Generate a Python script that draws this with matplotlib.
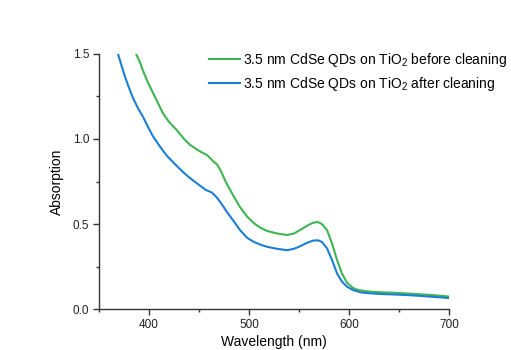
import matplotlib
matplotlib.use("Agg")
import matplotlib.pyplot as plt
from matplotlib.ticker import MultipleLocator

plt.rcParams['font.family'] = ['Liberation Sans', 'DejaVu Sans']
plt.rcParams['mathtext.fontset'] = 'custom'
plt.rcParams['mathtext.rm'] = 'Liberation Sans'
plt.rcParams['mathtext.default'] = 'regular'

# Data
wl_before = [387, 391, 394, 399, 404, 409, 414, 420, 428, 435, 441, 450, 458, 464, 468,
             472, 477, 484, 491, 498, 505, 511, 518, 528, 538, 545, 551, 558, 564, 569,
             573, 578, 583, 588, 593, 598, 604, 610, 620, 631, 645, 660, 680, 700]
abs_before = [1.50, 1.45, 1.40, 1.33, 1.27, 1.21, 1.15, 1.10, 1.05, 1.00, 0.965, 0.93, 0.905, 0.87, 0.85,
              0.81, 0.745, 0.67, 0.60, 0.545, 0.505, 0.48, 0.46, 0.445, 0.436, 0.445, 0.465, 0.49, 0.508, 0.512,
              0.50, 0.465, 0.387, 0.29, 0.21, 0.156, 0.125, 0.112, 0.104, 0.10, 0.097, 0.092, 0.085, 0.075]

wl_after = [369, 372, 376, 380, 384, 389, 394, 399, 404, 411, 418, 428, 435, 441, 450,
            457, 463, 468, 473, 478, 485, 491, 498, 505, 512, 518, 528, 538, 545, 551,
            558, 564, 569, 573, 578, 583, 588, 593, 598, 604, 612, 621, 631, 645, 660,
            680, 700]
abs_after = [1.50, 1.44, 1.365, 1.30, 1.24, 1.18, 1.13, 1.07, 1.015, 0.955, 0.90, 0.84, 0.80, 0.77, 0.73,
             0.70, 0.685, 0.655, 0.615, 0.57, 0.515, 0.465, 0.42, 0.395, 0.378, 0.367, 0.355, 0.347, 0.355, 0.37,
             0.39, 0.403, 0.405, 0.395, 0.358, 0.289, 0.211, 0.162, 0.133, 0.113, 0.099, 0.094, 0.09, 0.087, 0.083,
             0.075, 0.066]

labels = ['3.5 nm CdSe QDs on TiO$_2$ before cleaning',
          '3.5 nm CdSe QDs on TiO$_2$ after cleaning']
colors = ['#3db652', '#1a7fd3']
x_ticks = [400, 500, 600, 700]
y_ticks = [0.0, 0.5, 1.0, 1.5]

fig = plt.figure(figsize=(5.11, 3.5), dpi=100)
ax = fig.add_axes([99/511, 1-309.3/350, 350/511, (309.3-53.7)/350])

ax.plot(wl_before, abs_before, color=colors[0], lw=1.5, label=labels[0])
ax.plot(wl_after, abs_after, color=colors[1], lw=1.5, label=labels[1])

ax.set_xlim(350, 700)
ax.set_ylim(0, 1.5)
ax.set_xticks(x_ticks)
ax.set_yticks(y_ticks)
ax.set_yticklabels([f'{v:.1f}' for v in y_ticks])
ax.xaxis.set_minor_locator(MultipleLocator(50))
ax.yaxis.set_minor_locator(MultipleLocator(0.25))

for s in ['top', 'right']:
    ax.spines[s].set_visible(False)
for s in ['left', 'bottom']:
    ax.spines[s].set_color('#333333')
    ax.spines[s].set_linewidth(1.0)

ax.tick_params(which='major', direction='out', length=4, width=1, color='#333333',
               labelsize=8.5, pad=3, labelcolor='#222222')
ax.tick_params(which='minor', direction='out', length=2.5, width=1, color='#333333')

ax.set_xlabel('Wavelength (nm)', fontsize=10, labelpad=3)
ax.set_ylabel('Absorption', fontsize=10, labelpad=6)

fig.legend(loc='upper left', bbox_to_anchor=(209/511, 1-51/350), frameon=False,
           fontsize=10, handlelength=2.2, handletextpad=0.25, borderpad=0,
           borderaxespad=0, labelspacing=0.45)

fig.savefig('out.png', dpi=100)
